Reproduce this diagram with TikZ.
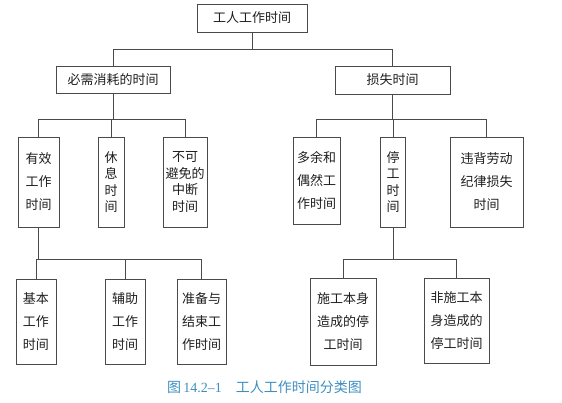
\documentclass[tikz,border=0pt]{standalone}
\usepackage{fontspec}
\setmainfont{Liberation Serif}
\newfontfamily\cjk{Noto Sans CJK SC}
\usepackage{tikz}
\usetikzlibrary{positioning}
\definecolor{lineGray}{HTML}{4A4A4A}
\definecolor{textDark}{HTML}{1E1E1E}
\definecolor{capBlue}{HTML}{3E8FC0}

\begin{document}
\begin{tikzpicture}[
  x=1pt, y=-1pt,
  box/.style={draw=lineGray, line width=0.6pt, inner sep=0pt, align=center,
    text=textDark, font=\cjk\fontsize{13}{23}\selectfont},
  tallbox/.style={box, font=\cjk\fontsize{13}{16.5}\selectfont},
  link/.style={draw=lineGray, line width=0.6pt},
]

% --- Frame ---
\useasboundingbox (0,0) rectangle (562,402);

% --- Bar heights ---
\coordinate (b1) at (0,49);
\coordinate (b2) at (0,119);
\coordinate (b3) at (0,259);

% --- Level 1 and 2 ---
\node[box, minimum width=110pt, minimum height=28pt] (top)  at (252,18)    {工人工作时间};
\node[box, minimum width=114pt, minimum height=27pt] (need) at (113,79.5)  {必需消耗的时间};
\node[box, minimum width=115pt, minimum height=28pt] (loss) at (392.5,80)  {损失时间};

% --- Level 3 ---
\node[box, minimum width=41pt, minimum height=90pt]     (xiao)   at (38.5,182)  {有效\\工作\\时间};
\node[tallbox, minimum width=26pt, minimum height=90pt] (xiu)    at (111,182)   {休\\息\\时\\间};
\node[tallbox, minimum width=44pt, minimum height=90pt] (bkbm)   at (185,182)   {不可\\避免的\\中断\\时间};
\node[box, minimum width=47pt, minimum height=87pt]     (duoyu)  at (316.5,180.5) {多余和\\偶然工\\作时间};
\node[tallbox, minimum width=25pt, minimum height=90pt] (ting)   at (393,182)   {停\\工\\时\\间};
\node[box, minimum width=73pt, minimum height=90pt]     (weibei) at (486.5,182) {违背劳动\\纪律损失\\时间};

% --- Level 4 ---
\node[box, minimum width=40pt, minimum height=85pt] (jiben)   at (36,321.5)    {基本\\工作\\时间};
\node[box, minimum width=40pt, minimum height=85pt] (fuzhu)   at (125,321.5)   {辅助\\工作\\时间};
\node[box, minimum width=49pt, minimum height=85pt] (zhunbei) at (201.5,321.5) {准备与\\结束工\\作时间};
\node[box, minimum width=66pt, minimum height=87pt] (shigong) at (343,321.5)   {施工本身\\造成的停\\工时间};
\node[box, minimum width=65pt, minimum height=85pt] (feishi)  at (456.5,320.5) {非施工本\\身造成的\\停工时间};

% --- Connectors ---
\draw[link] (top) -- (top |- b1);
\draw[link] (need.north) |- (loss |- b1) -- (loss.north);

\draw[link] (need) -- (need |- b2);
\draw[link] (xiao.north) |- (bkbm |- b2) -- (bkbm.north);
\draw[link] (xiu) -- (xiu |- b2);

\draw[link] (loss) -- (loss |- b2);
\draw[link] (duoyu.north) |- (weibei |- b2) -- (weibei.north);
\draw[link] (ting) -- (ting |- b2);

\draw[link] (xiao) -- (xiao |- b3);
\draw[link] (jiben.north) |- (zhunbei |- b3) -- (zhunbei.north);
\draw[link] (fuzhu) -- (fuzhu |- b3);

\draw[link] (ting) -- (ting |- b3);
\draw[link] (shigong.north) |- (feishi |- b3) -- (feishi.north);

% --- Caption ---
\node[text=capBlue, font=\fontsize{14}{16}\selectfont] (caption) at (264.5,387)
  {{\cjk 图}\,14.2--1\quad{\cjk 工人工作时间分类图}};

\end{tikzpicture}
\end{document}
